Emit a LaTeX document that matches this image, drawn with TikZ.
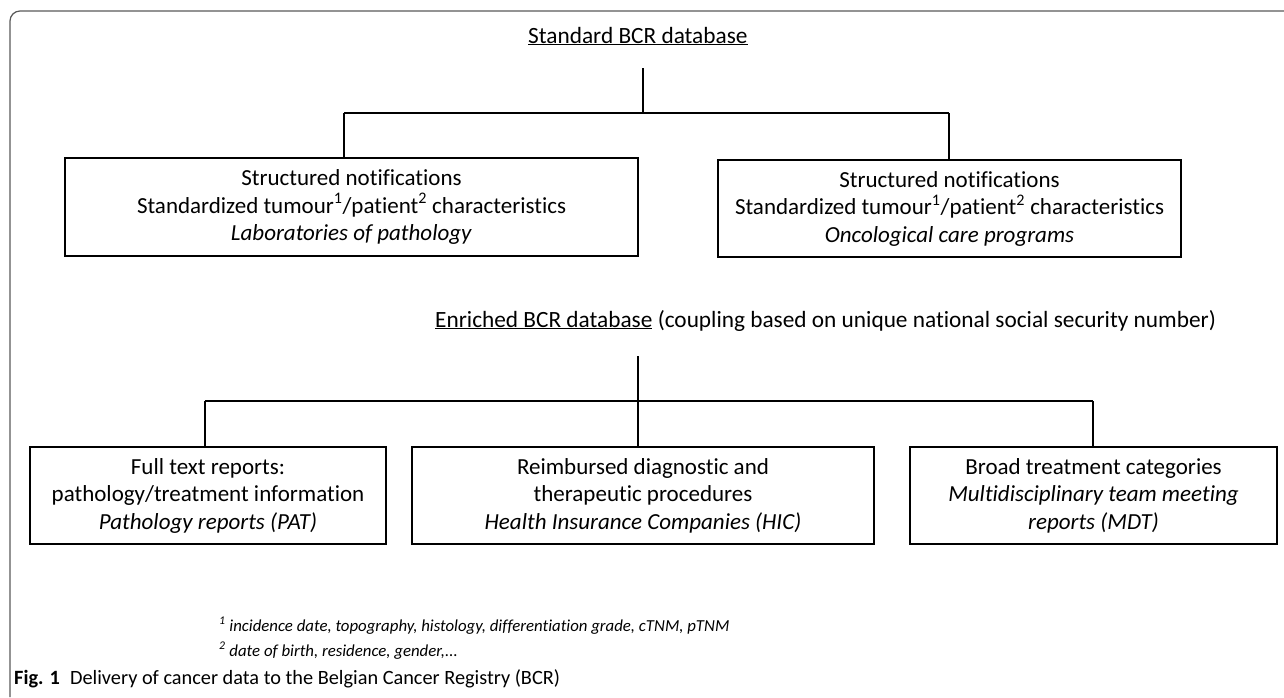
\documentclass[tikz,border=0pt]{standalone}
\usepackage{fontspec}
\setmainfont[Ligatures=NoCommon]{Carlito}
\begin{document}
\begin{tikzpicture}[x=1pt,y=-1pt,
  boxtext/.style={font=\fontsize{23}{27.5}\selectfont, align=center},
  infobox/.style={boxtext, draw=black, line width=2pt, inner sep=0pt},
  conn/.style={draw=black, line width=1.3pt},
  frameline/.style={draw=black!65, line width=1.2pt, rounded corners=10pt},
  headtext/.style={font=\fontsize{23.3}{27.5}\selectfont, anchor=base west, inner sep=0pt},
  foottext/.style={font=\fontsize{16.8}{20}\selectfont\itshape, anchor=base west, inner sep=0pt},
  captext/.style={font=\fontsize{20.3}{24}\selectfont, anchor=base west, inner sep=0pt}
]
\useasboundingbox (0,0) rectangle (1284,697);
% frame
\coordinate (fb) at (10,697);
\coordinate (fc) at (10,11);
\coordinate (fr) at (1284,11);
\draw[frameline] (fb) -- (fc) -- (fr);

% titles
\node[headtext] (std) at (528,43) {\underline{Standard BCR database}};
\node[headtext] (enr) at (435,327) {\underline{Enriched BCR database} (coupling based on unique national social security number)};

% top boxes
\node[infobox, minimum width=573pt, minimum height=98pt] (b1) at (351.5,207)
  {Structured notifications\\Standardized tumour\textsuperscript{1}/patient\textsuperscript{2} characteristics\\\textit{Laboratories of pathology}};
\node[infobox, minimum width=463pt, minimum height=97pt] (b2) at (949.5,208.5)
  {Structured notifications\\Standardized tumour\textsuperscript{1}/patient\textsuperscript{2} characteristics\\\textit{Oncological care programs}};

% bottom boxes
\node[infobox, minimum width=356pt, minimum height=97pt] (c1) at (208,495.5)
  {Full text reports:\\pathology/treatment information\\\textit{Pathology reports (PAT)}};
\node[infobox, minimum width=462pt, minimum height=97pt] (c2) at (643,495.5)
  {Reimbursed diagnostic and\\therapeutic procedures\\\textit{Health Insurance Companies (HIC)}};
\node[infobox, minimum width=367pt, minimum height=97pt] (c3) at (1093.5,495.5)
  {Broad treatment categories\\\textit{Multidisciplinary team meeting}\\\textit{reports (MDT)}};

% top connectors
\coordinate (t1) at (643,68);
\coordinate (j1) at (643,113);
\coordinate (h1L) at (344,113);
\coordinate (h1R) at (949,113);
\draw[conn] (t1) -- (j1);
\draw[conn] (h1L) -- (h1R);
\draw[conn] (h1L) -- (h1L |- b1.north);
\draw[conn] (h1R) -- (h1R |- b2.north);

% bottom connectors
\coordinate (t2) at (638,356);
\coordinate (h2L) at (205,401);
\coordinate (h2R) at (1093,401);
\draw[conn] (t2) -- (t2 |- c2.north);
\draw[conn] (h2L) -- (h2R);
\draw[conn] (h2L) -- (h2L |- c1.north);
\draw[conn] (h2R) -- (h2R |- c3.north);

% footnotes
\node[foottext] (fn1) at (219,631) {\textsuperscript{1} incidence date, topography, histology, differentiation grade, cTNM, pTNM};
\node[foottext] (fn2) at (219,656) {\textsuperscript{2} date of birth, residence, gender,...};
\node[captext] (cap) at (14,684) {\textbf{Fig. 1}\hspace{0.5em}Delivery of cancer data to the Belgian Cancer Registry (BCR)};
\end{tikzpicture}
\end{document}
